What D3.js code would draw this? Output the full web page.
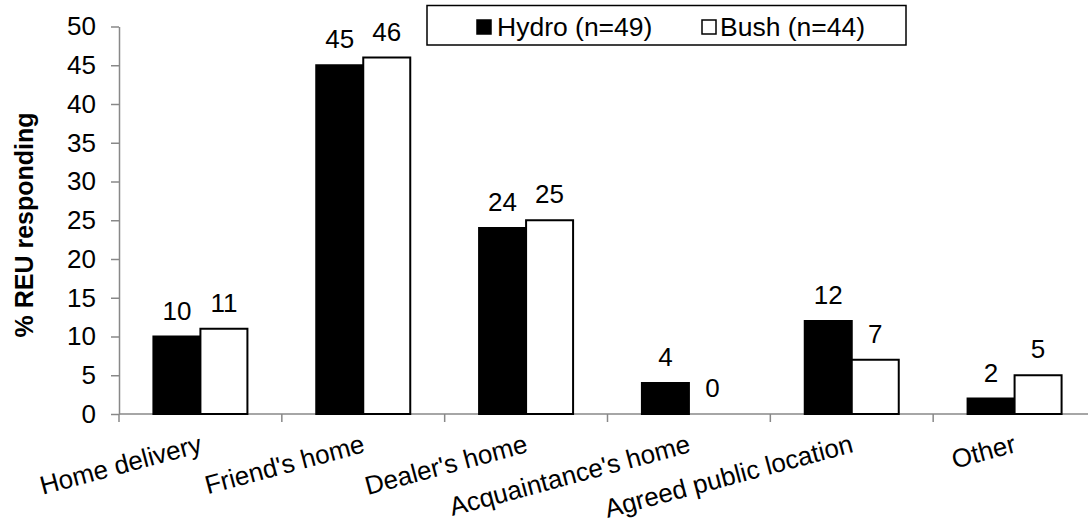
<!DOCTYPE html>
<html><head><meta charset="utf-8">
<script src="https://cdn.jsdelivr.net/npm/d3@7"></script>
<style>body{margin:0;background:#fff}svg{display:block;font-family:"Liberation Sans",Arial,sans-serif}</style>
</head><body>
<svg id="c" width="1088" height="524"></svg>
<script>
const categories = ["Home delivery","Friend's home","Dealer's home","Acquaintance's home","Agreed public location","Other"];
const hydro = [10,45,24,4,12,2];
const bush = [11,46,25,0,7,5];
const seriesNames = ["Hydro (n=49)","Bush (n=44)"];
const yTicks = [0,5,10,15,20,25,30,35,40,45,50];

(function(){
const svg = d3.select("#c");
const FF = "Liberation Sans, Arial, sans-serif";
const mL = 119, mR = 1096, mT = 26.5, mB = 414;
const x = d3.scaleBand().domain(categories).range([mL, mR]).paddingInner(0).paddingOuter(0);
const y = d3.scaleLinear().domain([0,50]).range([mB, mT]);
const barW = 47;
const series = [{name:seriesNames[0], vals:hydro, fill:"#000"},{name:seriesNames[1], vals:bush, fill:"#fff"}];

// y axis
const ya = svg.append("g").attr("transform",`translate(${mL},0)`)
  .call(d3.axisLeft(y).tickValues(yTicks).tickSize(8).tickPadding(15).tickSizeOuter(0));
ya.select(".domain").attr("stroke","#888").attr("stroke-width",1.5);
ya.selectAll(".tick line").attr("stroke","#888").attr("stroke-width",1.5);
ya.selectAll(".tick text").attr("font-size",26).attr("fill","#000").attr("font-family",FF);

// x axis
const xa = svg.append("g").attr("transform",`translate(0,${mB})`);
xa.append("line").attr("x1",mL).attr("x2",mR).attr("stroke","#888").attr("stroke-width",1.5);
const bounds = categories.map(c=>x(c)).concat([x(categories[categories.length-1])+x.bandwidth()]);
xa.selectAll("line.t").data(bounds).join("line").attr("class","t")
  .attr("x1",d=>d).attr("x2",d=>d).attr("y1",0).attr("y2",8).attr("stroke","#888").attr("stroke-width",1.5);

// bars
series.forEach((s,si)=>{
  const g = svg.append("g");
  g.selectAll("rect").data(s.vals).join("rect")
    .attr("x",(d,i)=>x(categories[i])+x.bandwidth()/2 - barW + si*barW)
    .attr("y",d=>y(d))
    .attr("width",barW)
    .attr("height",d=>y(0)-y(d))
    .attr("fill",s.fill).attr("stroke","#000").attr("stroke-width",2);
  g.selectAll("text").data(s.vals).join("text")
    .attr("x",(d,i)=>x(categories[i])+x.bandwidth()/2 - barW/2 + si*barW)
    .attr("y",d=>y(d)-17)
    .attr("text-anchor","middle").attr("font-size",26).text(d=>d);
});

// category labels
svg.append("g").selectAll("text").data(categories).join("text")
  .attr("transform",d=>`translate(${x(d)+x.bandwidth()/2-2},${434}) rotate(-15)`)
  .attr("text-anchor","end").attr("dy","0.71em").attr("font-size",26).text(d=>d);

// y title
svg.append("text").attr("transform","translate(33,225) rotate(-90)")
  .attr("text-anchor","middle").attr("font-weight","bold").attr("font-size",25).text("% REU responding");

// legend
const lg = svg.append("g");
lg.append("rect").attr("x",427).attr("y",5.5).attr("width",479).attr("height",39.5)
  .attr("fill","#fff").attr("stroke","#000").attr("stroke-width",1.5);
const lx = [477,702];
const tx = [497,720];
series.forEach((s,i)=>{
  lg.append("rect").attr("x",lx[i]).attr("y",20).attr("width",14).attr("height",14)
    .attr("fill",s.fill).attr("stroke","#000").attr("stroke-width",1.5);
  lg.append("text").attr("x",tx[i]).attr("y",35.5).attr("font-size",26.5).text(s.name);
});
})();
</script>
</body></html>
